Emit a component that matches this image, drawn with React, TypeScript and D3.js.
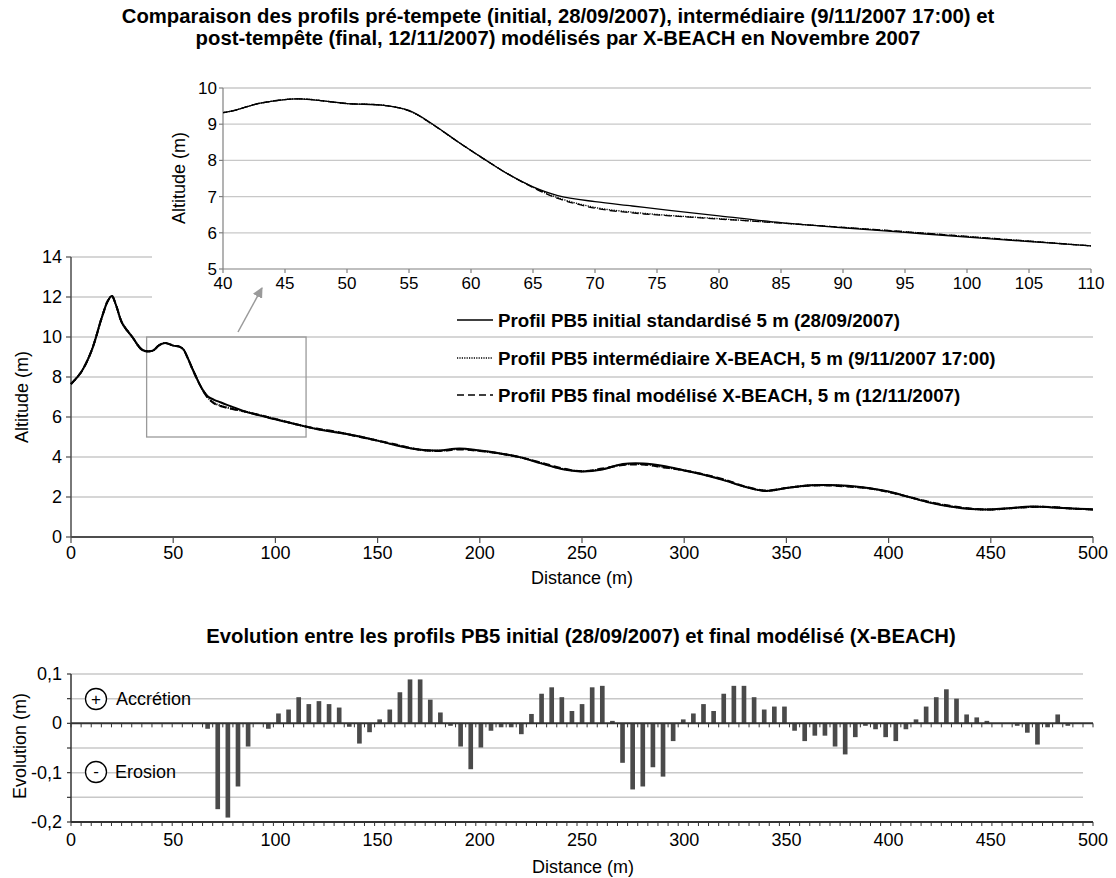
import React from "react";
import * as d3 from "d3";

// ---------- DATA ----------
const distances = [0, 5, 10, 15, 18, 20, 22, 25, 30, 35, 40, 43, 46, 50, 53, 55, 57, 59, 61, 63, 65, 67, 70, 73, 76, 80, 85, 90, 95, 100, 105, 110, 120, 130, 140, 150, 160, 170, 180, 190, 200, 210, 220, 230, 240, 250, 260, 270, 280, 290, 300, 310, 320, 330, 340, 350, 360, 370, 380, 390, 400, 410, 420, 430, 440, 450, 460, 470, 480, 490, 500];

const initialAlt = [7.65, 8.25, 9.3, 10.95, 11.8, 12.05, 11.6, 10.7, 10.0, 9.35, 9.32, 9.58, 9.7, 9.57, 9.52, 9.38, 8.98, 8.5, 8.05, 7.62, 7.27, 7.03, 6.86, 6.74, 6.62, 6.47, 6.28, 6.14, 6.01, 5.88, 5.76, 5.64, 5.4, 5.23, 5.05, 4.82, 4.56, 4.37, 4.33, 4.43, 4.32, 4.18, 3.98, 3.68, 3.4, 3.28, 3.38, 3.65, 3.68, 3.55, 3.33, 3.1, 2.82, 2.5, 2.3, 2.45, 2.58, 2.6, 2.56, 2.45, 2.27, 2.0, 1.72, 1.52, 1.4, 1.38, 1.45, 1.52, 1.48, 1.42, 1.38];

const interAlt = [7.65, 8.25, 9.3, 10.95, 11.8, 12.05, 11.6, 10.7, 10.0, 9.35, 9.32, 9.58, 9.7, 9.57, 9.52, 9.37, 8.97, 8.5, 8.05, 7.62, 7.26, 6.97, 6.7, 6.57, 6.48, 6.39, 6.27, 6.15, 6.03, 5.9, 5.77, 5.64, 5.41, 5.25, 5.04, 4.82, 4.58, 4.37, 4.31, 4.4, 4.31, 4.17, 3.98, 3.7, 3.42, 3.29, 3.4, 3.62, 3.64, 3.5, 3.33, 3.11, 2.84, 2.51, 2.31, 2.45, 2.57, 2.59, 2.54, 2.44, 2.26, 2.0, 1.74, 1.54, 1.41, 1.37, 1.44, 1.51, 1.49, 1.42, 1.38];

const finalAlt = [7.65, 8.25, 9.3, 10.95, 11.8, 12.05, 11.6, 10.7, 10.0, 9.35, 9.32, 9.58, 9.7, 9.57, 9.52, 9.37, 8.97, 8.5, 8.05, 7.62, 7.25, 6.95, 6.68, 6.55, 6.47, 6.38, 6.27, 6.15, 6.03, 5.9, 5.77, 5.64, 5.42, 5.26, 5.03, 4.82, 4.6, 4.37, 4.3, 4.38, 4.3, 4.17, 3.98, 3.72, 3.44, 3.29, 3.42, 3.6, 3.62, 3.48, 3.33, 3.12, 2.86, 2.52, 2.32, 2.45, 2.56, 2.58, 2.52, 2.44, 2.25, 2.0, 1.75, 1.56, 1.42, 1.37, 1.44, 1.5, 1.5, 1.42, 1.38];

const mainYTicks = [0, 2, 4, 6, 8, 10, 12, 14];
const mainXTicks = [0, 50, 100, 150, 200, 250, 300, 350, 400, 450, 500];
const insetXTicks = [40, 45, 50, 55, 60, 65, 70, 75, 80, 85, 90, 95, 100, 105, 110];
const insetYTicks = [5, 6, 7, 8, 9, 10];

// evolution bars, one per 5 m class (0-5, 5-10, ... 495-500)
const evolCategories = d3.range(0, 500, 5);
const evolValues = [
  0, 0, 0, 0, 0, 0, 0, 0, 0, 0,
  0, 0, 0, -0.011, -0.174, -0.191, -0.128, -0.047, 0, -0.011,
  0.02, 0.028, 0.053, 0.039, 0.045, 0.039, 0.032, -0.007, -0.041, -0.018,
  0.008, 0.028, 0.063, 0.089, 0.089, 0.048, 0.022, -0.005, -0.047, -0.093,
  -0.049, -0.015, -0.008, -0.008, -0.022, 0.019, 0.06, 0.073, 0.053, 0.025,
  0.039, 0.073, 0.076, 0.005, -0.08, -0.134, -0.128, -0.089, -0.108, -0.036,
  0.008, 0.02, 0.039, 0.025, 0.06, 0.076, 0.076, 0.053, 0.028, 0.034,
  0.034, -0.015, -0.036, -0.025, -0.025, -0.047, -0.063, -0.028, -0.005, -0.012,
  -0.028, -0.036, -0.012, 0.008, 0.034, 0.053, 0.069, 0.05, 0.018, 0.012,
  0.005, 0, 0, -0.005, -0.019, -0.043, -0.008, 0.018, -0.005, 0,
];
const evolYTicks = [0.1, 0.05, 0, -0.05, -0.1, -0.15, -0.2];
const evolYLabels: Record<string, string> = { "0.1": "0,1", "0": "0", "-0.1": "-0,1", "-0.2": "-0,2" };

const legendItems = [
  { label: "Profil PB5 initial standardisé 5 m (28/09/2007)", dash: "none" },
  { label: "Profil PB5 intermédiaire X-BEACH, 5 m (9/11/2007 17:00)", dash: "1.2,1.2" },
  { label: "Profil PB5 final modélisé X-BEACH, 5 m (12/11/2007)", dash: "7,4" },
];

const FONT = "'Liberation Sans', Arial, sans-serif";
const GRID = "#c8c8c8";
const AXIS = "#4d4d4d";
const TITLE_SIZE = 20.3;

export default function App() {
  // main chart scales
  const x = d3.scaleLinear().domain([0, 500]).range([71, 1093]);
  const y = d3.scaleLinear().domain([0, 14]).range([537, 257]);
  // inset scales
  const xi = d3.scaleLinear().domain([40, 110]).range([223, 1091]);
  const yi = d3.scaleLinear().domain([5, 10]).range([269, 88]);
  // bottom chart scales
  const xb = d3.scaleLinear().domain([0, 500]).range([71, 1093]);
  const band = d3.scaleBand<number>().domain(evolCategories).range([71, 1083]).paddingInner(0.54).paddingOuter(0.27);
  const yb = d3.scaleLinear().domain([-0.2, 0.1]).range([822, 674]);

  const series = [
    { vals: initialAlt, dash: "none" },
    { vals: interAlt, dash: "1.2,1.2" },
    { vals: finalAlt, dash: "7,4" },
  ];

  const mainLine = (vals: number[]) =>
    d3.line<number>().x((_, i) => x(distances[i])).y((v) => y(v)).curve(d3.curveCatmullRom)(vals) || "";
  const insetLine = (vals: number[]) =>
    d3.line<number>().x((_, i) => xi(distances[i])).y((v) => yi(v)).curve(d3.curveCatmullRom)(vals) || "";

  const stepB = band.step();
  const bandEdges = d3.range(0, 101).map((k) => 71 + k * stepB);

  return (
    <svg width={1116} height={878} style={{ position: "absolute", left: 0, top: 0, background: "#fff" }} fontFamily={FONT}>
      <defs>
        <clipPath id="insetClip">
          <rect x={223} y={80} width={868} height={189} />
        </clipPath>
        <marker id="arrowHead" viewBox="0 0 10 10" refX={9} refY={5} markerWidth={7} markerHeight={7} orient="auto">
          <path d="M0,0 L10,5 L0,10 z" fill="#9a9a9a" />
        </marker>
      </defs>
      <rect x={0} y={0} width={1116} height={878} fill="#fff" />

      {/* Title */}
      <text x={558} y={23} textAnchor="middle" fontSize={TITLE_SIZE} fontWeight="bold">
        Comparaison des profils pré-tempete (initial, 28/09/2007), intermédiaire (9/11/2007 17:00) et
      </text>
      <text x={558} y={45} textAnchor="middle" fontSize={TITLE_SIZE} fontWeight="bold">
        post-tempête (final, 12/11/2007) modélisés par X-BEACH en Novembre 2007
      </text>

      {/* ===== Main chart ===== */}
      {mainYTicks.filter((t) => t > 0).map((t) => (
        <line key={"mg" + t} x1={71} x2={1093} y1={y(t)} y2={y(t)} stroke={GRID} strokeWidth={1.5} />
      ))}

      {/* inset background */}
      <rect x={152} y={52} width={964} height={248} fill="#fff" />

      {/* main axes */}
      <line x1={71} x2={71} y1={257} y2={537} stroke={AXIS} strokeWidth={1.5} />
      {mainYTicks.map((t) => (
        <g key={"my" + t}>
          <line x1={66} x2={71} y1={y(t)} y2={y(t)} stroke={AXIS} strokeWidth={1.2} />
          <text x={62} y={y(t) + 6} textAnchor="end" fontSize={18}>{t}</text>
        </g>
      ))}
      <line x1={71} x2={1093} y1={537} y2={537} stroke={AXIS} strokeWidth={2} />
      {mainXTicks.map((t) => (
        <g key={"mx" + t}>
          <line x1={x(t)} x2={x(t)} y1={537} y2={543} stroke={AXIS} strokeWidth={1.2} />
          <text x={x(t)} y={559} textAnchor="middle" fontSize={18}>{t}</text>
        </g>
      ))}
      <text x={582} y={584} textAnchor="middle" fontSize={18}>Distance (m)</text>
      <text transform="translate(28,397) rotate(-90)" textAnchor="middle" fontSize={18}>Altitude (m)</text>

      {/* zoom box + arrow */}
      <rect x={x(37)} y={y(10)} width={x(115) - x(37)} height={y(5) - y(10)} fill="none" stroke="#9a9a9a" strokeWidth={1.3} />
      <line x1={238} y1={332} x2={262} y2={288} stroke="#9a9a9a" strokeWidth={1.5} markerEnd="url(#arrowHead)" />

      {/* main series */}
      {series.map((s, i) => (
        <path key={"ms" + i} d={mainLine(s.vals)} fill="none" stroke="#000" strokeWidth={2} strokeDasharray={s.dash} />
      ))}

      {/* legend */}
      {legendItems.map((l, i) => {
        const ly = [320, 358, 395][i];
        return (
          <g key={"lg" + i}>
            <line x1={457} x2={493} y1={ly} y2={ly} stroke="#000" strokeWidth={1.6} strokeDasharray={l.dash} />
            <text x={498} y={ly + 6.5} fontSize={18.7} fontWeight="bold">{l.label}</text>
          </g>
        );
      })}

      {/* ===== Inset ===== */}
      {insetYTicks.filter((t) => t > 5).map((t) => (
        <line key={"ig" + t} x1={223} x2={1091} y1={yi(t)} y2={yi(t)} stroke={GRID} strokeWidth={1.3} />
      ))}
      <line x1={223} x2={223} y1={88} y2={269} stroke="#808080" strokeWidth={1.2} />
      {insetYTicks.map((t) => (
        <g key={"iy" + t}>
          <line x1={219} x2={223} y1={yi(t)} y2={yi(t)} stroke="#808080" strokeWidth={1.2} />
          <text x={217} y={yi(t) + 6} textAnchor="end" fontSize={17}>{t}</text>
        </g>
      ))}
      <line x1={223} x2={1091} y1={269} y2={269} stroke="#808080" strokeWidth={1.2} />
      {insetXTicks.map((t) => (
        <g key={"ix" + t}>
          <line x1={xi(t)} x2={xi(t)} y1={269} y2={273} stroke="#808080" strokeWidth={1.2} />
          <text x={xi(t)} y={289} textAnchor="middle" fontSize={17}>{t}</text>
        </g>
      ))}
      <text transform="translate(185,178) rotate(-90)" textAnchor="middle" fontSize={18}>Altitude (m)</text>
      <g clipPath="url(#insetClip)">
        {series.map((s, i) => (
          <path key={"is" + i} d={insetLine(s.vals)} fill="none" stroke="#000" strokeWidth={1.3} strokeDasharray={s.dash} />
        ))}
      </g>

      {/* ===== Bottom chart ===== */}
      <text x={581} y={643} textAnchor="middle" fontSize={TITLE_SIZE} fontWeight="bold">
        Evolution entre les profils PB5 initial (28/09/2007) et final modélisé (X-BEACH)
      </text>
      {evolYTicks.filter((t) => t !== 0 && t !== -0.2).map((t) => (
        <line key={"bg" + t} x1={71} x2={1083} y1={yb(t)} y2={yb(t)} stroke={GRID} strokeWidth={1.5} />
      ))}
      {evolValues.map((v, i) => (
        <rect key={"bar" + i}
          x={band(evolCategories[i])!}
          width={band.bandwidth()}
          y={yb(Math.max(0, v))}
          height={Math.abs(yb(v) - yb(0))}
          fill="#4a4a4a" />
      ))}
      {/* zero line */}
      <line x1={71} x2={1093} y1={yb(0)} y2={yb(0)} stroke="#333" strokeWidth={2} />
      {bandEdges.concat([1093]).map((bx, i) => (
        <line key={"zt" + i} x1={bx} x2={bx} y1={yb(0)} y2={yb(0) + 4} stroke="#333" strokeWidth={1} />
      ))}
      {/* bottom axis */}
      <line x1={71} x2={1093} y1={yb(-0.2)} y2={yb(-0.2)} stroke="#333" strokeWidth={2} />
      {bandEdges.concat([1093]).map((bx, i) => (
        <line key={"bt" + i} x1={bx} x2={bx} y1={yb(-0.2)} y2={yb(-0.2) + 4} stroke="#333" strokeWidth={1} />
      ))}
      <line x1={71} x2={71} y1={674} y2={822} stroke="#333" strokeWidth={1.5} />
      {evolYTicks.map((t) => (
        <line key={"byt" + t} x1={67} x2={71} y1={yb(t)} y2={yb(t)} stroke="#333" strokeWidth={1.2} />
      ))}
      {evolYTicks.filter((t) => evolYLabels[String(t)] !== undefined).map((t) => (
        <text key={"byl" + t} x={62} y={yb(t) + 6} textAnchor="end" fontSize={18}>{evolYLabels[String(t)]}</text>
      ))}
      {mainXTicks.map((t) => (
        <text key={"bxl" + t} x={xb(t)} y={846} textAnchor="middle" fontSize={18}>{t}</text>
      ))}
      <text x={583} y={873} textAnchor="middle" fontSize={18}>Distance (m)</text>
      <text transform="translate(26,746) rotate(-90)" textAnchor="middle" fontSize={18}>Evolution (m)</text>

      {/* annotations */}
      <circle cx={96} cy={699} r={10.5} fill="#fff" stroke="#000" strokeWidth={1.3} />
      <text x={96} y={705} textAnchor="middle" fontSize={17}>+</text>
      <text x={116} y={705} fontSize={18}>Accrétion</text>
      <circle cx={96} cy={772} r={10.5} fill="#fff" stroke="#000" strokeWidth={1.3} />
      <text x={96} y={777} textAnchor="middle" fontSize={17}>-</text>
      <text x={115} y={778} fontSize={18}>Erosion</text>
    </svg>
  );
}
